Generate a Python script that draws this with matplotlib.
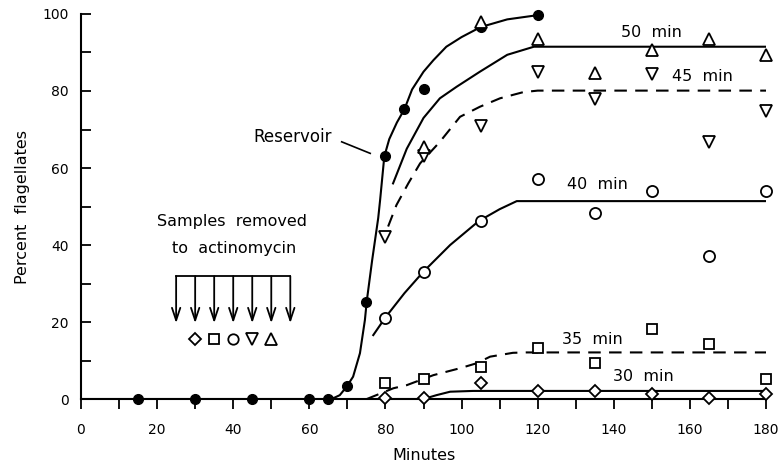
import numpy as np
import matplotlib
matplotlib.use("Agg")
import matplotlib.pyplot as plt

plt.rcParams['font.family'] = ['DejaVu Sans']

# observed points (minutes, percent flagellates)
res_t = [15, 30, 45, 60, 65, 70, 75, 80, 85, 90, 105, 120]
res_p = [0, 0, 0, 0, 0, 3.4, 25.2, 63, 75.3, 80.5, 96.6, 99.7]

late_t = [80, 90, 105, 120, 135, 150, 165, 180]
p50 = [None, 65.5, 97.8, 93.4, 84.8, 90.6, 93.4, 89.3]
p45 = [42.2, 63, 70.9, 85.0, 77.8, 84.4, 66.8, 74.8]
p40 = [21.1, 33.1, 46.3, 57.1, 48.2, 54.1, 37.2, 54.1]
p35 = [4.1, 5.2, 8.4, 13.2, 9.4, 18.2, 14.3, 5.2]
p30 = [0.3, 0.3, 4.2, 2.2, 2.2, 1.3, 0.3, 1.3]

# hand-drawn fitted curves
res_curve_t = [0, 65, 66.5, 68, 69.8, 71.5, 73.3, 74.6, 75.1, 76.5, 78.1, 78.6,
               79.7, 81, 83, 85, 87, 90, 92.6, 96, 100, 105, 112, 120]
res_curve_p = [0, 0, 0.3, 1.0, 3.2, 5.8, 11.9, 20.5, 25.5, 36, 47, 51.7,
               63, 67.5, 71.8, 75.3, 80.4, 85, 88, 91.5, 94, 96.6, 98.6, 99.7]
c50_t = [82, 85.6, 90, 94.3, 98.7, 104.8, 112, 119, 180]
c50_p = [56, 65, 73, 78.1, 81.1, 85, 89.4, 91.5, 91.5]
c45_t = [80.7, 82.9, 86, 89.1, 94.3, 99.6, 104.8, 110.1, 116.2, 120, 180]
c45_p = [44.8, 50.4, 56, 61.2, 66.8, 73.3, 75.9, 78.1, 79.7, 80.1, 80.1]
c40_t = [76.8, 80, 85, 90, 97, 104.5, 110, 114.5, 180]
c40_p = [16.6, 21.2, 27.5, 33.1, 40, 46.2, 49.3, 51.4, 51.4]
c35_t = [75.1, 82.1, 85.6, 92.6, 99.6, 104, 107.5, 113.5, 117, 180]
c35_p = [0, 2.8, 3.6, 6.2, 8.0, 9.3, 11, 12.0, 12.1, 12.1]
c30_t = [78, 90, 93.4, 97, 103, 180]
c30_p = [0, 0, 1.0, 1.9, 2.1, 2.1]

# sampling times for the actinomycin transfers
arrow_t = [25, 30, 35, 40, 45, 50, 55]
key_t = [30, 35, 40, 45, 50]
key_markers = ['D', 's', 'o', 'v', '^']

fig = plt.figure(figsize=(7.78, 4.68), dpi=100)
ax = fig.add_axes([0.1041, 0.1474, 0.8805, 0.8227])

lw = 1.5
ax.plot(res_curve_t, res_curve_p, color='black', lw=lw)
ax.plot(c50_t, c50_p, color='black', lw=lw)
ax.plot(c45_t, c45_p, color='black', lw=lw, dashes=(6, 4))
ax.plot(c40_t, c40_p, color='black', lw=lw)
ax.plot(c35_t, c35_p, color='black', lw=lw, dashes=(6, 4))
ax.plot(c30_t, c30_p, color='black', lw=lw)

ax.plot(res_t, res_p, 'o', color='black', ms=7, clip_on=False, zorder=5)

open_kw = dict(ls='none', mfc='white', mec='black', mew=1.3, clip_on=False, zorder=5)
t50 = [t for t, p in zip(late_t, p50) if p is not None]
v50 = [p for p in p50 if p is not None]
ax.plot(late_t, p45, marker='v', ms=9, **open_kw)
ax.plot(t50, v50, marker='^', ms=9, **open_kw)
ax.plot(late_t, p40, marker='o', ms=8, **open_kw)
ax.plot(late_t, p35, marker='s', ms=7.5, **open_kw)
ax.plot(late_t, p30, marker='D', ms=6.5, **open_kw)

fs = 11.5
ax.text(150, 95.3, '50  min', ha='center', va='center', fontsize=fs)
ax.text(163.4, 83.7, '45  min', ha='center', va='center', fontsize=fs)
ax.text(135.7, 55.6, '40  min', ha='center', va='center', fontsize=fs)
ax.text(134.4, 15.5, '35  min', ha='center', va='center', fontsize=fs)
ax.text(147.7, 5.8, '30  min', ha='center', va='center', fontsize=fs)
ax.text(55.7, 68.1, 'Reservoir', ha='center', va='center', fontsize=12)
ax.plot([68.5, 76], [66.8, 63.8], color='black', lw=1.2)

ax.text(39.7, 46.1, 'Samples  removed', ha='center', va='center', fontsize=fs)
ax.text(40.3, 39.1, 'to  actinomycin', ha='center', va='center', fontsize=fs)

# bracket of arrows with the key symbols underneath
ax.plot([arrow_t[0], arrow_t[-1]], [31.9, 31.9], color='black', lw=1.3)
for t in arrow_t:
    ax.annotate('', xy=(t, 19.7), xytext=(t, 31.9),
                arrowprops=dict(arrowstyle='->,head_length=0.9,head_width=0.3',
                                lw=1.3, color='black', mutation_scale=10,
                                shrinkA=0, shrinkB=0))
for t, m in zip(key_t, key_markers):
    size = {'D': 6, 's': 7, 'o': 7.5, 'v': 8.5, '^': 8.5}[m]
    ax.plot([t], [15.5], marker=m, ms=size, **open_kw)

ax.set_xlim(0, 180)
ax.set_ylim(0, 100)
ax.spines['top'].set_visible(False)
ax.spines['right'].set_visible(False)
for s in ['left', 'bottom']:
    ax.spines[s].set_linewidth(1.5)

ax.set_xticks(np.arange(0, 181, 20))
ax.set_xticks(np.arange(10, 181, 20), minor=True)
ax.set_yticks(np.arange(0, 101, 20))
ax.set_yticks(np.arange(10, 101, 20), minor=True)
ax.tick_params(axis='x', which='both', direction='out', length=7, width=1.3,
               labelsize=10, pad=10)
ax.tick_params(axis='y', which='both', direction='in', length=7, width=1.3,
               labelsize=10, pad=9)

ax.set_xlabel('Minutes', fontsize=11.5, labelpad=8)
ax.set_ylabel('Percent  flagellates', fontsize=11.5, labelpad=9)

fig.savefig('out.png', dpi=100)
